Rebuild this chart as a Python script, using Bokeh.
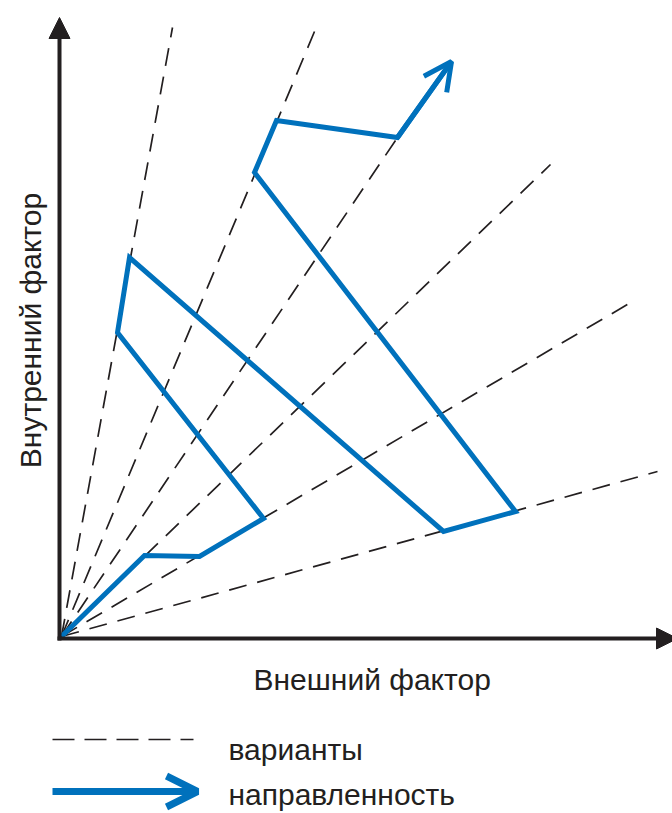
import math
from bokeh.plotting import figure
from bokeh.models import Range1d, Arrow, OpenHead, NormalHead
from bokeh.core.properties import value
from bokeh.embed import file_html
from bokeh.resources import INLINE

# ---- data (units: origin of the fan of variants = 0,0) ----
ray_x = [111, 253, 336, 489, 571, 596]
ray_y = [609, 605, 499, 472, 335, 165]

path_x = [0, 83, 138, 202, 56, 68, 382, 454, 193, 215, 336, 390]
path_y = [0, 81, 80, 118, 304, 379, 105, 125, 464, 516, 499, 575]

x_label = "Внешний фактор"
y_label = "Внутренний фактор"
legend_labels = ["варианты", "направленность"]

INK = "#231f20"
BLUE = "#0071bc"
FONT = value("Liberation Sans")

p = figure(width=672, height=813, output_backend="svg", toolbar_location=None,
           x_range=Range1d(-61, 611), y_range=Range1d(-177, 636),
           min_border=0, x_axis_type=None, y_axis_type=None)
p.outline_line_color = None
p.xgrid.visible = False
p.ygrid.visible = False
p.background_fill_color = "white"

# axes with arrowheads
p.add_layout(Arrow(x_start=-2, y_start=-4, x_end=-2, y_end=619, line_width=4, line_color=INK,
                   end=NormalHead(size=21, fill_color=INK, line_color=INK, line_width=1)))
p.add_layout(Arrow(x_start=-4, y_start=-2, x_end=616, y_end=-2, line_width=4, line_color=INK,
                   end=NormalHead(size=21, fill_color=INK, line_color=INK, line_width=1)))

# variants (dashed rays)
p.segment(x0=[0] * len(ray_x), y0=[0] * len(ray_y), x1=ray_x, y1=ray_y,
          line_color=INK, line_width=1.7, line_dash="18 11")

# direction path
p.line(path_x, path_y, line_color=BLUE, line_width=5, line_join="miter")
p.add_layout(Arrow(x_start=path_x[-2], y_start=path_y[-2], x_end=path_x[-1], y_end=path_y[-1],
                   line_color=BLUE, line_width=5,
                   end=OpenHead(size=28, line_color=BLUE, line_width=5)))

# axis labels
p.text(x=[192], y=[-43], text=[x_label], text_font=FONT, text_font_size="30px",
       text_color=INK, text_baseline="alphabetic", text_align="left")
p.text(x=[-31], y=[306], text=[y_label], text_font=FONT, text_font_size="30px",
       text_color=INK, text_baseline="middle", text_align="center", angle=math.pi / 2)

# legend
p.segment(x0=[-9], y0=[-103], x1=[132], y1=[-103], line_color=INK, line_width=1.7,
          line_dash="22 10")
p.add_layout(Arrow(x_start=-9, y_start=-155, x_end=136, y_end=-155,
                   line_color=BLUE, line_width=7,
                   end=OpenHead(size=31, line_color=BLUE, line_width=7)))
p.text(x=[167, 167], y=[-113, -158], text=legend_labels, text_font=FONT,
       text_font_size="30px", text_color=INK, text_baseline="alphabetic", text_align="left")

open("out.html", "w").write(file_html(p, INLINE))
